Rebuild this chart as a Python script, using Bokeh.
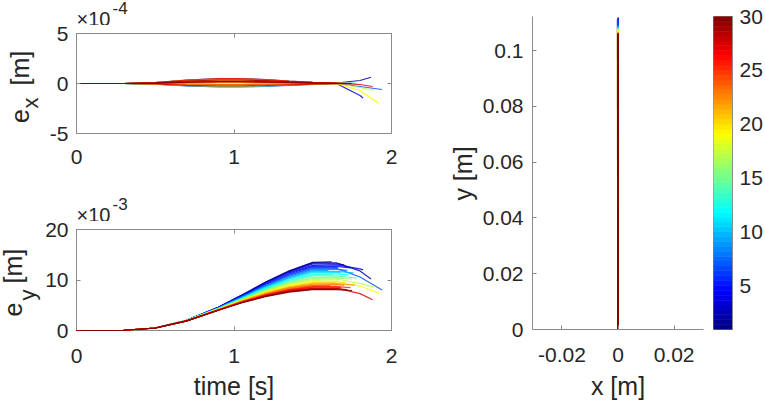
import numpy as np
from bokeh.plotting import figure
from bokeh.models import Range1d, FixedTicker, LinearAxis, Label, CustomJSTickFormatter
from bokeh.layouts import row, column
from bokeh.embed import file_html
from bokeh.resources import INLINE

# ---------------- data ----------------
run_ids = list(range(1, 31))
run_min, run_max = 1, 30

t_grid = [0.0, 0.3, 0.5, 0.7, 0.9, 1.05, 1.2, 1.35, 1.5, 1.65, 1.8]

t_end = [1.62, 1.87, 1.70, 1.82, 1.74, 1.66, 1.94, 1.72, 1.60, 1.76,
         1.68, 1.73, 1.63, 1.78, 1.69, 1.75, 1.89, 1.67, 1.92, 1.71,
         1.64, 1.77, 1.70, 1.61, 1.74, 1.68, 1.88, 1.72, 1.66, 1.75]

# e_y in units of 1e-3 m (values at t_grid points before t_end, then at t_end)
ey_runs = [
    [0, 0.05, 0.5, 2.0, 4.6, 7.0, 9.6, 11.8, 13.5, 13.6],
    [0, 0.05, 0.5, 2.0, 4.6, 7.0, 9.5, 11.7, 13.4, 13.4, 11.8, 10.2],
    [0, 0.05, 0.5, 2.0, 4.6, 6.9, 9.5, 11.6, 13.2, 13.2, 13.0],
    [0, 0.05, 0.5, 2.0, 4.5, 6.9, 9.3, 11.4, 12.9, 13.0, 12.2, 12.0],
    [0, 0.05, 0.5, 2.0, 4.5, 6.8, 9.2, 11.2, 12.7, 12.7, 12.4],
    [0, 0.05, 0.5, 2.0, 4.5, 6.7, 9.1, 11.0, 12.5, 12.5, 12.5],
    [0, 0.05, 0.5, 2.0, 4.5, 6.7, 8.9, 10.9, 12.3, 12.3, 10.6, 8.0],
    [0, 0.05, 0.5, 2.0, 4.4, 6.6, 8.8, 10.7, 12.1, 12.1, 11.9],
    [0, 0.05, 0.5, 2.0, 4.4, 6.6, 8.7, 10.5, 11.9, 11.9],
    [0, 0.05, 0.5, 2.0, 4.4, 6.5, 8.6, 10.4, 11.7, 11.7, 11.4],
    [0, 0.05, 0.5, 2.0, 4.4, 6.4, 8.5, 10.2, 11.5, 11.5, 11.4],
    [0, 0.05, 0.5, 2.0, 4.3, 6.4, 8.4, 10.0, 11.2, 11.2, 11.0],
    [0, 0.05, 0.5, 2.0, 4.3, 6.3, 8.3, 9.9, 11.0, 11.1],
    [0, 0.05, 0.5, 2.0, 4.3, 6.3, 8.2, 9.7, 10.8, 10.8, 10.4],
    [0, 0.05, 0.5, 2.0, 4.3, 6.2, 8.0, 9.5, 10.5, 10.6, 10.5],
    [0, 0.05, 0.5, 1.9, 4.3, 6.1, 7.9, 9.4, 10.3, 10.4, 10.2],
    [0, 0.05, 0.5, 1.9, 4.2, 6.1, 7.8, 9.2, 10.1, 10.2, 9.3, 8.6],
    [0, 0.05, 0.5, 1.9, 4.2, 6.0, 7.7, 9.0, 9.9, 10.0, 10.0],
    [0, 0.05, 0.5, 1.9, 4.2, 6.0, 7.6, 8.9, 9.7, 9.7, 8.8, 7.4],
    [0, 0.05, 0.5, 1.9, 4.2, 5.9, 7.5, 8.7, 9.5, 9.6, 9.5],
    [0, 0.05, 0.5, 1.9, 4.1, 5.9, 7.4, 8.6, 9.4, 9.4],
    [0, 0.05, 0.5, 1.9, 4.1, 5.8, 7.3, 8.5, 9.2, 9.3, 9.0],
    [0, 0.05, 0.5, 1.9, 4.1, 5.8, 7.2, 8.4, 9.0, 9.1, 9.0],
    [0, 0.05, 0.5, 1.9, 4.1, 5.7, 7.1, 8.2, 8.9, 8.9],
    [0, 0.05, 0.5, 1.9, 4.1, 5.7, 7.0, 8.1, 8.7, 8.7, 8.5],
    [0, 0.05, 0.5, 1.9, 4.0, 5.6, 7.0, 8.0, 8.6, 8.6, 8.5],
    [0, 0.05, 0.5, 1.9, 4.0, 5.6, 6.9, 7.9, 8.4, 8.4, 7.3, 6.1],
    [0, 0.05, 0.5, 1.9, 4.0, 5.6, 6.8, 7.8, 8.3, 8.3, 8.1],
    [0, 0.05, 0.5, 1.9, 4.0, 5.5, 6.8, 7.7, 8.2, 8.2, 8.2],
    [0, 0.05, 0.45, 1.9, 4.0, 5.5, 6.7, 7.6, 8.1, 8.1, 7.9],
]

# e_x in units of 1e-4 m
ex_runs = [
    [0, 0, 0.03, 0.1, 0.15, 0.15, 0.12, 0.08, 0.04, 0.02],
    [0, 0, -0.04, -0.14, -0.2, -0.2, -0.16, -0.1, -0.05, 0.05, 0.3, 0.63],
    [0, 0, 0.09, 0.32, 0.45, 0.45, 0.36, 0.22, 0.11, 0.03, 0.0],
    [0, 0, -0.06, -0.21, -0.3, -0.3, -0.24, -0.15, -0.07, 0.0, -1.2, -1.45],
    [0, 0, 0.06, 0.21, 0.3, 0.3, 0.24, 0.15, 0.08, 0.02, 0.0],
    [0, 0, 0.02, 0.07, 0.1, 0.1, 0.08, 0.05, 0.03, 0.0, 0.0],
    [0, 0, -0.07, -0.25, -0.35, -0.35, -0.28, -0.18, -0.09, 0.0, -0.3, -0.6],
    [0, 0, 0.1, 0.35, 0.5, 0.5, 0.4, 0.25, 0.12, 0.03, 0.0],
    [0, 0, -0.02, -0.07, -0.1, -0.1, -0.08, -0.05, -0.03, -0.01],
    [0, 0, 0.05, 0.18, 0.25, 0.25, 0.2, 0.13, 0.06, 0.02, 0.01],
    [0, 0, -0.05, -0.18, -0.25, -0.25, -0.2, -0.13, -0.06, -0.01, 0.0],
    [0, 0, 0.08, 0.28, 0.4, 0.4, 0.32, 0.2, 0.1, 0.03, 0.02],
    [0, 0, 0.01, 0.04, 0.05, 0.05, 0.04, 0.03, 0.01, 0.0],
    [0, 0, -0.03, -0.1, -0.15, -0.15, -0.12, -0.08, -0.04, 0.0, 0.02],
    [0, 0, 0.07, 0.25, 0.35, 0.35, 0.28, 0.18, 0.09, 0.02, 0.01],
    [0, 0, -0.06, -0.21, -0.3, -0.3, -0.24, -0.15, -0.08, -0.02, -0.03],
    [0, 0, 0.04, 0.14, 0.2, 0.2, 0.16, 0.1, 0.05, 0.0, -0.4, -0.7],
    [0, 0, 0.09, 0.32, 0.45, 0.45, 0.36, 0.22, 0.11, 0.03, 0.02],
    [0, 0, -0.01, -0.04, -0.05, -0.05, -0.04, -0.03, -0.01, 0.0, -0.7, -2.0],
    [0, 0, 0.06, 0.21, 0.3, 0.3, 0.24, 0.15, 0.08, 0.02, 0.01],
    [0, 0, -0.04, -0.14, -0.2, -0.2, -0.16, -0.1, -0.05, -0.02],
    [0, 0, 0.02, 0.07, 0.1, 0.1, 0.08, 0.05, 0.03, 0.01, 0.0],
    [0, 0, 0.08, 0.28, 0.4, 0.4, 0.32, 0.2, 0.1, 0.03, 0.02],
    [0, 0, -0.02, -0.07, -0.1, -0.1, -0.08, -0.05, -0.02, -0.01],
    [0, 0, 0.05, 0.18, 0.25, 0.25, 0.2, 0.13, 0.06, 0.02, 0.02],
    [0, 0, 0.1, 0.35, 0.5, 0.5, 0.4, 0.25, 0.12, 0.03, 0.02],
    [0, 0, 0.03, 0.1, 0.15, 0.15, 0.12, 0.08, 0.04, 0.01, -0.1, -0.3],
    [0, 0, -0.05, -0.18, -0.25, -0.25, -0.2, -0.13, -0.06, -0.01, 0.0],
    [0, 0, 0.07, 0.25, 0.35, 0.35, 0.28, 0.18, 0.09, 0.02, 0.01],
    [0, 0, 0.04, 0.14, 0.2, 0.2, 0.16, 0.1, 0.05, 0.01, 0.0],
]

# x-y paths (m): start point and reached height of each run
xy_start = (0.0, 0.0)
y_reach = [0.1105, 0.1118, 0.1108, 0.1112, 0.1100, 0.1095, 0.1115, 0.1090, 0.1085, 0.1088,
           0.1080, 0.1082, 0.1075, 0.1080, 0.1076, 0.1074, 0.1078, 0.1070, 0.1076, 0.1068,
           0.1064, 0.1066, 0.1062, 0.1060, 0.1062, 0.1060, 0.1063, 0.1058, 0.1057, 0.1060]

time_ticks = [0, 1, 2]
ex_ticks = [-5, 0, 5]
ey_ticks = [0, 10, 20]
xy_x_ticks = [-0.02, 0, 0.02]
xy_y_ticks = [0, 0.02, 0.04, 0.06, 0.08, 0.1]
cbar_ticks = [5, 10, 15, 20, 25, 30]

# ---------------- style ----------------
FONT = "Liberation Sans"
TXT = "#262626"
AX = "#8a8a8a"
TICK_PX = 21
LAB_PX = 25
BASE_SHIFT = 0.32   # drawn baseline sits this many em past the anchor


def jet_hex(x):
    r = min(max(1.5 - abs(4 * x - 3), 0.0), 1.0)
    g = min(max(1.5 - abs(4 * x - 2), 0.0), 1.0)
    b = min(max(1.5 - abs(4 * x - 1), 0.0), 1.0)
    return "#%02x%02x%02x" % (round(r * 255), round(g * 255), round(b * 255))


run_colors = [jet_hex((k - run_min) / (run_max - run_min)) for k in run_ids]
run_times = [[g for g in t_grid if g < te] + [te] for te in t_end]


def style_axis(ax, ticks, show=True, size=TICK_PX, standoff=9, tick_in=4):
    ax.ticker = FixedTicker(ticks=ticks)
    ax.axis_line_color = AX
    ax.major_tick_line_color = AX
    ax.major_tick_in = tick_in
    ax.major_tick_out = 0
    ax.minor_tick_line_color = None
    ax.major_label_text_font = FONT
    ax.major_label_text_color = TXT
    if show:
        ax.formatter = CustomJSTickFormatter(code="return String(tick);")
        ax.major_label_text_font_size = f"{size}px"
        ax.major_label_standoff = standoff
    else:
        ax.formatter = CustomJSTickFormatter(code="return '';")
        ax.major_label_text_font_size = "1px"
        ax.major_label_standoff = 0


def make_fig(w, h, bl, br, bt, bb, xr, yr, box=True, **kw):
    p = figure(width=w, height=h, min_border_left=bl, min_border_right=br,
               min_border_top=bt, min_border_bottom=bb,
               x_range=Range1d(*xr), y_range=Range1d(*yr),
               output_backend="svg", toolbar_location=None, title=None,
               background_fill_color="white", border_fill_color="white", **kw)
    p.grid.visible = False
    p.outline_line_color = AX if box else None
    return p


def make_strip(ox, oy, w, h, bl=0, br=0, bt=0, bb=0):
    # text-only panel; its frame (aligned by the layout with its neighbours)
    # gets page-pixel ranges, so labels can be placed in page pixels
    s = figure(width=w, height=h,
               x_range=Range1d(ox + bl, ox + w - br),
               y_range=Range1d(oy + h - bb, oy + bt),
               min_border_left=bl, min_border_right=br, min_border_top=bt, min_border_bottom=bb,
               x_axis_location=None, y_axis_location=None,
               output_backend="svg", toolbar_location=None, title=None,
               background_fill_color="white", border_fill_color="white")
    s.outline_line_color = None
    s.xgrid.visible = False
    s.ygrid.visible = False
    return s


def put(s, px, py, text, size, rotated=False, align="left"):
    # (px, py): wanted baseline point in page pixels
    shift = BASE_SHIFT * size
    if rotated:
        x, y, angle = px - shift, py, np.pi / 2
    else:
        x, y, angle = px, py - shift, 0.0
    s.add_layout(Label(x=x, y=y, text=text, angle=angle, text_align=align,
                       text_baseline="alphabetic", text_font=FONT,
                       text_font_size=f"{size}px", text_color=TXT))


# ---------------- left label strip (page x 0..42) ----------------
lab_left = make_strip(0, 0, 42, 402, bt=16, bb=73)
put(lab_left, 27, 122.5, "e", LAB_PX, True)
put(lab_left, 37.5, 108, "x", 22, True)
put(lab_left, 27, 85, "[m]", LAB_PX, True)
put(lab_left, 20, 316, "e", LAB_PX, True)
put(lab_left, 34, 300, "y", 22, True)
put(lab_left, 20, 283, "[m]", LAB_PX, True)

# ---------------- exponent strips ----------------
exp1 = make_strip(42, 0, 398, 25, bl=34, br=49)
put(exp1, 76, 24.5, "×10", 20)
put(exp1, 112, 12.5, "-4", 17)

# ---------------- top-left: e_x ----------------
p1 = make_fig(398, 150, 34, 49, 8, 42, (0, 2), (-5, 5))     # page y 25..175
style_axis(p1.xaxis[0], time_ticks, standoff=16)
style_axis(p1.yaxis[0], ex_ticks, standoff=8)
a_top, a_right = LinearAxis(), LinearAxis()
style_axis(a_top, time_ticks, show=False)
style_axis(a_right, ex_ticks, show=False)
p1.add_layout(a_top, "above")
p1.add_layout(a_right, "right")
p1.multi_line(xs=run_times, ys=ex_runs, line_color=run_colors, line_width=1.2, line_alpha=0.85)

exp2 = make_strip(42, 175, 398, 46, bl=34, br=49)
put(exp2, 76, 220.5, "×10", 20)
put(exp2, 112, 208.5, "-3", 17)

# ---------------- bottom-left: e_y ----------------
p2 = make_fig(398, 153, 34, 49, 8, 44, (0, 2), (0, 20))     # page y 221..374
style_axis(p2.xaxis[0], time_ticks, standoff=18)
style_axis(p2.yaxis[0], ey_ticks, standoff=8)
b_top, b_right = LinearAxis(), LinearAxis()
style_axis(b_top, time_ticks, show=False)
style_axis(b_right, ey_ticks, show=False)
p2.add_layout(b_top, "above")
p2.add_layout(b_right, "right")
p2.multi_line(xs=run_times, ys=ey_runs, line_color=run_colors, line_width=1.2,
              line_alpha=0.85, level="overlay")

lab_time = make_strip(42, 374, 398, 28, bl=34, br=49)
put(lab_time, 233.5, 393, "time [s]", LAB_PX, False, "center")

# ---------------- right: x-y ----------------
lab_y = make_strip(440, 0, 38, 402, bt=16, bb=73)
put(lab_y, 470, 173, "y [m]", LAB_PX, True, "center")

XR = (-0.0305, 0.0305)
YR = (0.0, 0.1122)
p3 = make_fig(235, 373, 54, 10, 16, 44, XR, YR, box=False)  # page x 478..713
style_axis(p3.xaxis[0], xy_x_ticks, standoff=18)
style_axis(p3.yaxis[0], xy_y_ticks, standoff=9)
xy_xs = [[xy_start[0], ex[-1] * 1e-4] for ex in ex_runs]
xy_ys = [[xy_start[1], yr] for yr in y_reach]
p3.multi_line(xs=xy_xs, ys=xy_ys, line_color=run_colors, line_width=1.6)

lab_x = make_strip(478, 373, 235, 29, bl=54, br=10)
put(lab_x, 617.5, 393, "x [m]", LAB_PX, False, "center")

# ---------------- colorbar (page x 713..765) ----------------
p4 = make_fig(52, 402, 0, 32, 16, 73, (0, 1), (run_min, run_max),
              x_axis_location=None, y_axis_location="right")
style_axis(p4.yaxis[0], cbar_ticks, size=TICK_PX, standoff=7, tick_in=0)
cb_levels = 64
edges = np.linspace(run_min, run_max, cb_levels + 1)
cb_colors = [jet_hex((i + 0.5) / cb_levels) for i in range(cb_levels)]
p4.quad(left=0, right=1, bottom=edges[:-1], top=edges[1:],
        fill_color=cb_colors, line_color=cb_colors, line_width=0.6)

layout = row(lab_left,
             column(exp1, p1, exp2, p2, lab_time),
             lab_y,
             column(p3, lab_x),
             p4)
open("out.html", "w").write(file_html(layout, INLINE))
